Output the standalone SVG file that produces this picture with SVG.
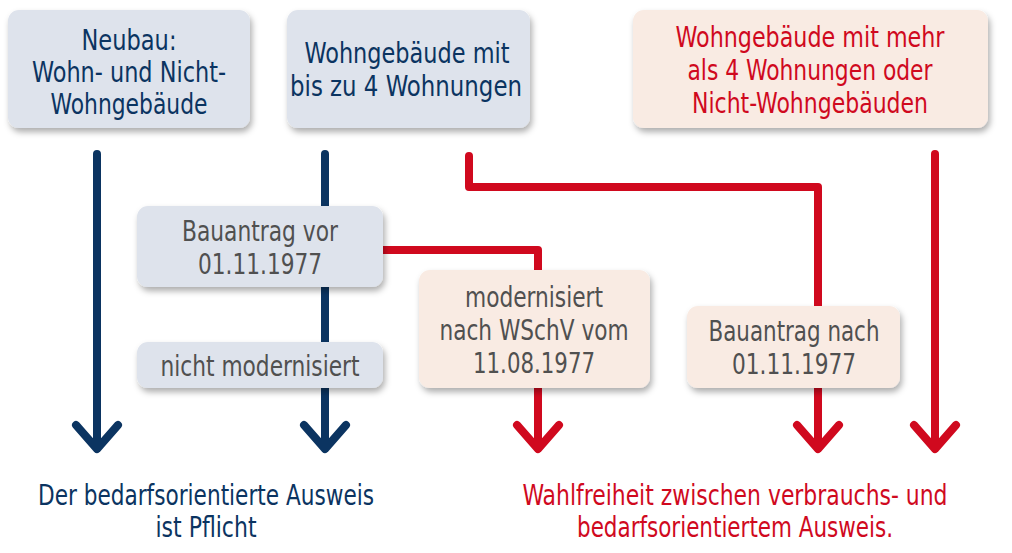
<svg xmlns="http://www.w3.org/2000/svg" width="1012" height="553" viewBox="0 0 1012 553">
<defs>
<filter id="sh" x="-10%" y="-20%" width="125%" height="150%">
<feDropShadow dx="2" dy="4" stdDeviation="3" flood-color="#000" flood-opacity="0.32"/>
</filter>
<style>
text{font-family:"DejaVu Sans Condensed","Liberation Sans",sans-serif;text-anchor:middle;font-size:28px}
.navy{fill:#0b3461}
.red{fill:#d0091e}
.gry{fill:#505050}
.bb{fill:#dee3ec}
.pb{fill:#f9ebe3}
.ln{fill:none;stroke-width:8;stroke-linecap:round;stroke-linejoin:round}
.nv{stroke:#0b3461}
.rd{stroke:#d0091e}
</style>
</defs>
<rect width="1012" height="553" fill="#fff"/>
<g id="connectors">
<path class="ln nv" d="M97 154V446M76 425L97 449L118 425"/>
<path class="ln nv" d="M325 154V446M304 425L325 449L346 425"/>
<path class="ln rd" d="M469 156V187H818V446M797 425L818 449L839 425"/>
<path class="ln rd" d="M383 250H538V446M517 425L538 449L559 425"/>
<path class="ln rd" d="M935 154V446M914 425L935 449L956 425"/>
</g>
<g id="n1"><rect class="bb" x="8" y="10" width="242" height="118" rx="11" filter="url(#sh)"/>
<text class="navy" x="129" y="50" textLength="95" lengthAdjust="spacingAndGlyphs">Neubau:</text>
<text class="navy" x="129" y="82" textLength="194" lengthAdjust="spacingAndGlyphs">Wohn- und Nicht-</text>
<text class="navy" x="129" y="114" textLength="157" lengthAdjust="spacingAndGlyphs">Wohngebäude</text></g>
<g id="n2"><rect class="bb" x="287" y="10" width="243" height="118" rx="11" filter="url(#sh)"/>
<text class="navy" x="407" y="63" textLength="205" lengthAdjust="spacingAndGlyphs">Wohngebäude mit</text>
<text class="navy" x="406" y="96" textLength="232" lengthAdjust="spacingAndGlyphs">bis zu 4 Wohnungen</text></g>
<g id="n3"><rect class="pb" x="633" y="10" width="355" height="118" rx="11" filter="url(#sh)"/>
<text class="red" x="810" y="47" textLength="269" lengthAdjust="spacingAndGlyphs">Wohngebäude mit mehr</text>
<text class="red" x="810" y="80" textLength="245" lengthAdjust="spacingAndGlyphs">als 4 Wohnungen oder</text>
<text class="red" x="810" y="113" textLength="236" lengthAdjust="spacingAndGlyphs">Nicht-Wohngebäuden</text></g>
<g id="n4"><rect class="bb" x="137" y="206" width="246" height="81" rx="11" filter="url(#sh)"/>
<text class="gry" x="260" y="241" textLength="156" lengthAdjust="spacingAndGlyphs">Bauantrag vor</text>
<text class="gry" x="260" y="274" textLength="124" lengthAdjust="spacingAndGlyphs">01.11.1977</text></g>
<g id="n5"><rect class="bb" x="137" y="342" width="246" height="46" rx="11" filter="url(#sh)"/>
<text class="gry" x="260" y="376" textLength="199" lengthAdjust="spacingAndGlyphs">nicht modernisiert</text></g>
<g id="n6"><rect class="pb" x="419" y="270" width="231" height="118" rx="11" filter="url(#sh)"/>
<text class="gry" x="534" y="307" textLength="138" lengthAdjust="spacingAndGlyphs">modernisiert</text>
<text class="gry" x="534" y="340" textLength="189" lengthAdjust="spacingAndGlyphs">nach WSchV vom</text>
<text class="gry" x="534" y="373" textLength="122" lengthAdjust="spacingAndGlyphs">11.08.1977</text></g>
<g id="n7"><rect class="pb" x="687" y="306" width="213" height="82" rx="11" filter="url(#sh)"/>
<text class="gry" x="794" y="341" textLength="171" lengthAdjust="spacingAndGlyphs">Bauantrag nach</text>
<text class="gry" x="794" y="374" textLength="124" lengthAdjust="spacingAndGlyphs">01.11.1977</text></g>
<g id="r1">
<text class="navy" x="206" y="505" textLength="336" lengthAdjust="spacingAndGlyphs">Der bedarfsorientierte Ausweis</text>
<text class="navy" x="206" y="537" textLength="101" lengthAdjust="spacingAndGlyphs">ist Pflicht</text></g>
<g id="r2">
<text class="red" x="735" y="505" textLength="425" lengthAdjust="spacingAndGlyphs">Wahlfreiheit zwischen verbrauchs- und</text>
<text class="red" x="735" y="537" textLength="316" lengthAdjust="spacingAndGlyphs">bedarfsorientiertem Ausweis.</text></g>
</svg>
